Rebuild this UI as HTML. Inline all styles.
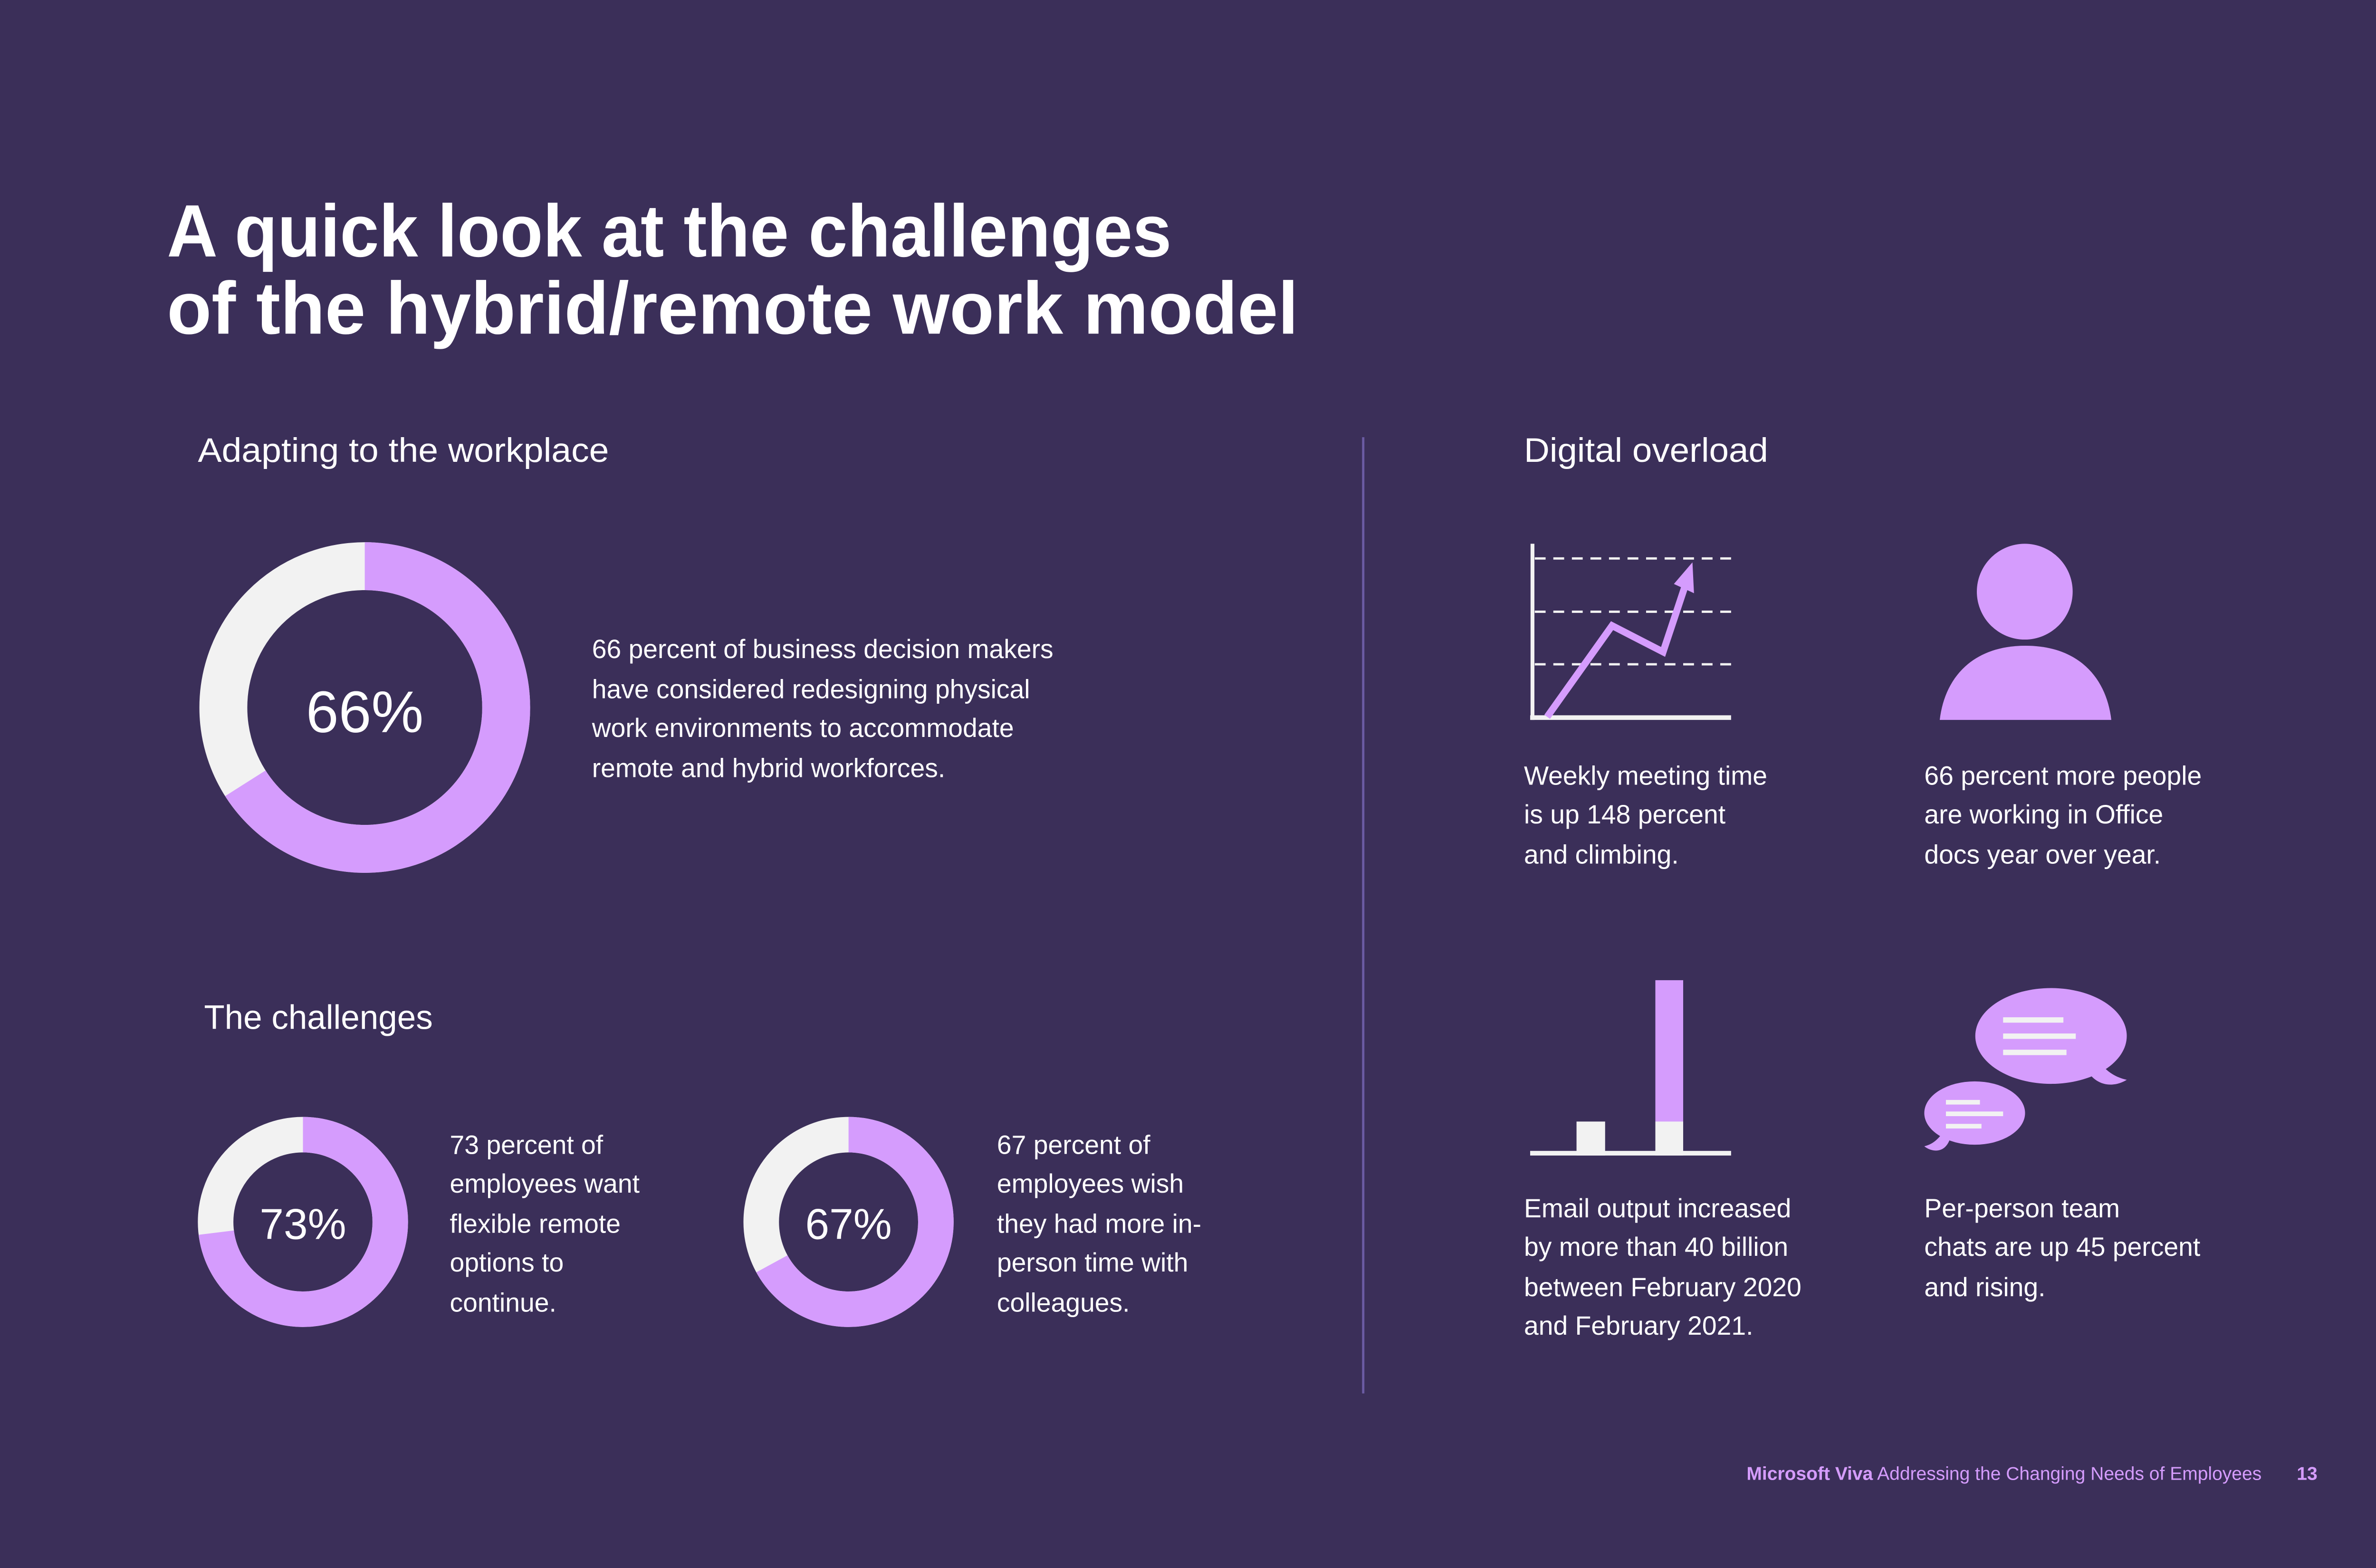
<!DOCTYPE html>
<html><head><meta charset="utf-8"><style>
html,body{margin:0;padding:0;background:#3b2f59;}
svg{display:block;}
text{font-family:"Liberation Sans",sans-serif;}
</style></head><body>
<svg width="5100" height="3300" viewBox="0 0 1568 1015" preserveAspectRatio="none" xmlns="http://www.w3.org/2000/svg">
<rect width="1568" height="1015" fill="#3b2f59"/>
<g fill="#ffffff" font-size="48" font-weight="bold">
<text x="108" y="166" textLength="650" lengthAdjust="spacingAndGlyphs">A quick look at the challenges</text>
<text x="108" y="216" textLength="732" lengthAdjust="spacingAndGlyphs">of the hybrid/remote work model</text>
</g>
<g fill="#ffffff" font-size="22">
<text x="128" y="299" textLength="266" lengthAdjust="spacingAndGlyphs">Adapting to the workplace</text>
<text x="132" y="666" textLength="148" lengthAdjust="spacingAndGlyphs">The challenges</text>
<text x="986" y="299" textLength="158" lengthAdjust="spacingAndGlyphs">Digital overload</text>
</g>
<line x1="882" y1="283" x2="882" y2="902" stroke="#6b5ba3" stroke-width="1.5"/>
<!-- donuts -->
<g>
<circle cx="236" cy="458" r="91.5" fill="none" stroke="#f2f2f2" stroke-width="31"/>
<circle cx="236" cy="458" r="91.5" fill="none" stroke="#d59cfd" stroke-width="31" stroke-dasharray="379.4 1000" transform="rotate(-90 236 458)"/>
<text x="236" y="474" fill="#fff" font-size="38" text-anchor="middle">66%</text>
<circle cx="196" cy="791" r="56.5" fill="none" stroke="#f2f2f2" stroke-width="23"/>
<circle cx="196" cy="791" r="56.5" fill="none" stroke="#d59cfd" stroke-width="23" stroke-dasharray="259.2 1000" transform="rotate(-90 196 791)"/>
<text x="196" y="802" fill="#fff" font-size="28" text-anchor="middle">73%</text>
<circle cx="549" cy="791" r="56.5" fill="none" stroke="#f2f2f2" stroke-width="23"/>
<circle cx="549" cy="791" r="56.5" fill="none" stroke="#d59cfd" stroke-width="23" stroke-dasharray="237.9 1000" transform="rotate(-90 549 791)"/>
<text x="549" y="802" fill="#fff" font-size="28" text-anchor="middle">67%</text>
</g>
<g fill="#ffffff" font-size="17">
<text x="383" y="426">66 percent of business decision makers</text>
<text x="383" y="452">have considered redesigning physical</text>
<text x="383" y="477">work environments to accommodate</text>
<text x="383" y="503">remote and hybrid workforces.</text>
<text x="291" y="747">73 percent of</text>
<text x="291" y="772">employees want</text>
<text x="291" y="798">flexible remote</text>
<text x="291" y="823">options to</text>
<text x="291" y="849">continue.</text>
<text x="645" y="747">67 percent of</text>
<text x="645" y="772">employees wish</text>
<text x="645" y="798">they had more in-</text>
<text x="645" y="823">person time with</text>
<text x="645" y="849">colleagues.</text>
<text x="986" y="508">Weekly meeting time</text>
<text x="986" y="533">is up 148 percent</text>
<text x="986" y="559">and climbing.</text>
<text x="1245" y="508">66 percent more people</text>
<text x="1245" y="533">are working in Office</text>
<text x="1245" y="559">docs year over year.</text>
<text x="986" y="788">Email output increased</text>
<text x="986" y="813">by more than 40 billion</text>
<text x="986" y="839">between February 2020</text>
<text x="986" y="864">and February 2021.</text>
<text x="1245" y="788">Per-person team</text>
<text x="1245" y="813">chats are up 45 percent</text>
<text x="1245" y="839">and rising.</text>
</g>
<!-- line chart icon -->
<g>
<line x1="991.5" y1="352" x2="991.5" y2="466" stroke="#f2f2f2" stroke-width="2.5"/>
<line x1="990" y1="464.5" x2="1120" y2="464.5" stroke="#f2f2f2" stroke-width="3"/>
<g stroke="#f2f2f2" stroke-width="1.5" stroke-dasharray="7 5">
<line x1="993" y1="361.5" x2="1120" y2="361.5"/>
<line x1="993" y1="396" x2="1120" y2="396"/>
<line x1="993" y1="430" x2="1120" y2="430"/>
</g>
<polyline points="1001,464 1043,405 1076,422 1090,380" fill="none" stroke="#d59cfd" stroke-width="4.5" stroke-linejoin="miter"/>
<polygon points="1095,364 1096,384 1083,378" fill="#d59cfd"/>
</g>
<!-- person -->
<circle cx="1310" cy="383" r="31" fill="#d59cfd"/>
<path d="M1255,466 C1258,440 1275,418 1310.5,418 C1346,418 1363,440 1366,466 Z" fill="#d59cfd"/>
<!-- bars -->
<rect x="990" y="745" width="130" height="3" fill="#f2f2f2"/>
<rect x="1020" y="726" width="18.5" height="22" fill="#f2f2f2"/>
<rect x="1071" y="634.5" width="18" height="92" fill="#d59cfd"/>
<rect x="1071" y="726" width="18" height="22" fill="#f2f2f2"/>
<!-- bubbles -->
<ellipse cx="1327" cy="670.6" rx="49" ry="31" fill="#d59cfd"/>
<path d="M1350,692 C1355,702 1366,705 1376,699 C1367,697 1361,692 1357,685 Z" fill="#d59cfd"/>
<g fill="#f2f2f2"><rect x="1296" y="658.5" width="39" height="3.5"/><rect x="1296" y="669" width="47" height="3.5"/><rect x="1296" y="679.5" width="41" height="3.5"/></g>
<ellipse cx="1277.6" cy="720.5" rx="32.6" ry="20.5" fill="#d59cfd"/>
<path d="M1257,733 C1253,739 1249,741 1245,742 C1250,746 1259,747 1262,736 Z" fill="#d59cfd"/>
<g fill="#f2f2f2"><rect x="1259" y="712" width="22" height="3"/><rect x="1259" y="719.5" width="37" height="3"/><rect x="1259" y="727.5" width="23" height="3"/></g>
<!-- footer -->
<text x="1130" y="958" font-size="12" fill="#d59cfd"><tspan font-weight="bold">Microsoft Viva</tspan> Addressing the Changing Needs of Employees</text>
<text x="1486" y="958" font-size="12" fill="#d59cfd" font-weight="bold">13</text>
</svg>
</body></html>
